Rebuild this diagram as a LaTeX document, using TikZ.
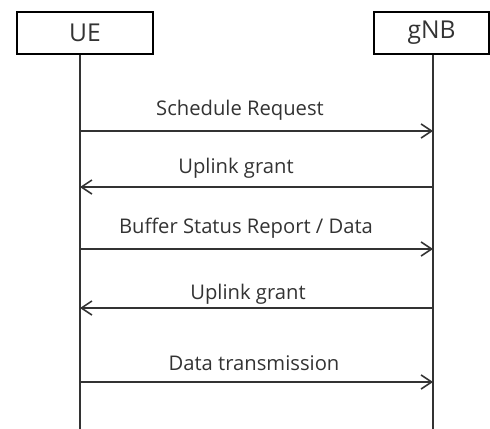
\documentclass[tikz,border=0pt]{standalone}
\usepackage{fontspec}
\setmainfont{Open Sans}
\usetikzlibrary{arrows.meta}

\begin{document}
\begin{tikzpicture}[x=0.02cm,y=-0.02cm,
	entity/.style={draw,line width=1.1pt,minimum height=0.84cm,font=\fontsize{14}{17}\selectfont,text=black!80},
	lifeline/.style={line width=1.1pt,black!80},
	msg/.style={line width=1.1pt,black!80,-{Straight Barb[length=6pt,width=8pt,line width=0.9pt]}},
	lbl/.style={font=\fontsize{11.5}{14}\selectfont,text=black!80,inner sep=0pt}]
	\useasboundingbox (0,0) rectangle (490,429);
	\node[entity,minimum width=2.72cm] (ue) at (85,33) {UE};
	\node[entity,minimum width=2.3cm] (gnb) at (431.5,33) {gNB};
	\coordinate (ue-end) at (80,429);
	\coordinate (gnb-end) at (433,429);
	\draw[lifeline] (ue.south -| ue-end) -- (ue-end);
	\draw[lifeline] (gnb.south -| gnb-end) -- (gnb-end);
	% message rows on both lifelines
	\foreach \i/\y in {1/131,2/187,3/249,4/308,5/382}{
		\coordinate (u\i) at (80,\y);
		\coordinate (g\i) at (433,\y);
	}
	\draw[msg] (u1) -- (g1);
	\draw[msg] (g2) -- (u2);
	\draw[msg] (u3) -- (g3);
	\draw[msg] (g4) -- (u4);
	\draw[msg] (u5) -- (g5);
	\node[lbl] (sr) at (240,110) {Schedule Request};
	\node[lbl] (ug1) at (236,168) {Uplink grant};
	\node[lbl] (bsr) at (246,228) {Buffer Status Report / Data};
	\node[lbl] (ug2) at (248,294) {Uplink grant};
	\node[lbl] (dt) at (254,363) {Data transmission};
\end{tikzpicture}
\end{document}
